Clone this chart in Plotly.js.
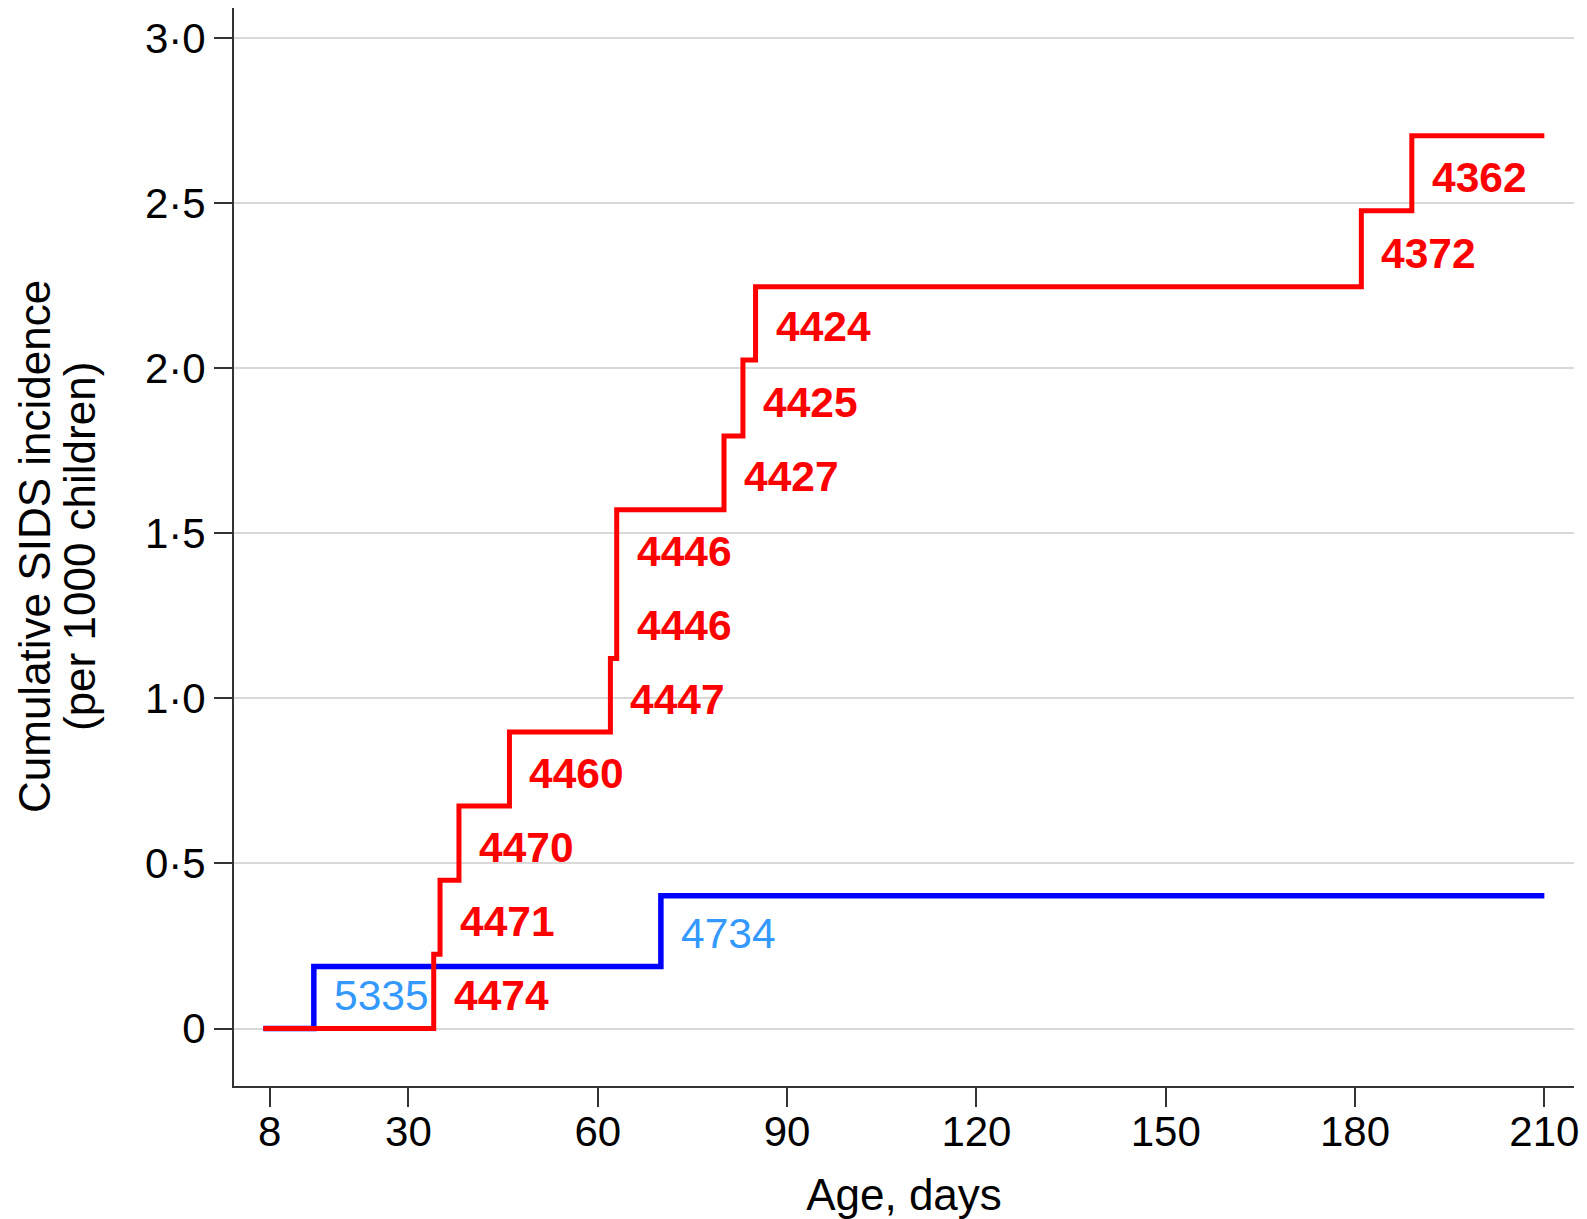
<!DOCTYPE html>
<html>
<head>
<meta charset="utf-8">
<script src="https://cdn.plot.ly/plotly-3.0.1.min.js"></script>
<style>
html, body { margin: 0; padding: 0; background: #ffffff; }
#chart { width: 1587px; height: 1219px; }
</style>
</head>
<body>
<div id="chart"></div>
<script>
// ---- data ----
const xTickVals = [8, 30, 60, 90, 120, 150, 180, 210];
const yTickVals = [0, 0.5, 1, 1.5, 2, 2.5, 3];
const yTickText = ["0", "0·5", "1·0", "1·5", "2·0", "2·5", "3·0"];

const xTitle = "Age, days";
const yTitleLines = ["Cumulative SIDS incidence", "(per 1000 children)"];

const startDay = 7;
const endDay = 210;

// red group: event days, cumulative incidence after each event, number at risk labels
const redDays = [34, 35, 38, 46, 62, 63, 63, 80, 83, 85, 181, 189];
const redCum = [0.225, 0.449, 0.674, 0.898, 1.121, 1.345, 1.571, 1.795, 2.025, 2.247, 2.477, 2.704];
const redLabels = ["4474", "4471", "4470", "4460", "4447", "4446", "4446", "4427", "4425", "4424", "4372", "4362"];

// blue group
const blueDays = [15, 70];
const blueCum = [0.188, 0.402];
const blueLabels = ["5335", "4734"];

// ---- styles ----
const FONT = "Liberation Sans, Arial, Helvetica, sans-serif";
const RED = "#ff0000";
const BLUE = "#0000ff";
const BLUE_TXT = "#3399ff";

function stepXY(days, cum) {
  const x = [startDay].concat(days, [endDay]);
  const y = [0].concat(cum, [cum[cum.length - 1]]);
  return { x, y };
}

// number-at-risk labels: just right of each riser, above the level before the step
function labelAnnotations(days, cum, labels, color, weight) {
  return days.map((d, i) => ({
    x: d, y: i === 0 ? 0 : cum[i - 1],
    xref: "x", yref: "y",
    text: labels[i],
    showarrow: false,
    xanchor: "left", yanchor: "middle",
    xshift: 18, yshift: 33,
    font: { family: FONT, size: 42.5, color: color, weight: weight }
  }));
}

const blueStep = stepXY(blueDays, blueCum);
const redStep = stepXY(redDays, redCum);

const traces = [
  {
    type: "scatter", mode: "lines",
    x: blueStep.x, y: blueStep.y,
    line: { color: BLUE, width: 5.5, shape: "hv" },
    hoverinfo: "skip", showlegend: false
  },
  {
    type: "scatter", mode: "lines",
    x: redStep.x, y: redStep.y,
    line: { color: RED, width: 5, shape: "hv" },
    hoverinfo: "skip", showlegend: false
  }
];

const yTitleAnnotations = yTitleLines.map((t, i) => ({
  text: t,
  xref: "paper", yref: "paper",
  x: 0, y: 0.5,
  xanchor: "center", yanchor: "middle",
  xshift: i === 0 ? -200 : -155,
  textangle: -90,
  showarrow: false,
  font: { family: FONT, size: 44, color: "#000000" }
}));

const annotations = []
  .concat(yTitleAnnotations)
  .concat(labelAnnotations(blueDays, blueCum, blueLabels, BLUE_TXT, "normal"))
  .concat(labelAnnotations(redDays, redCum, redLabels, RED, "bold"));

const layout = {
  width: 1587, height: 1219,
  margin: { l: 234, r: 13, t: 8, b: 133, pad: 0 },
  paper_bgcolor: "#ffffff",
  plot_bgcolor: "#ffffff",
  showlegend: false,
  font: { family: FONT, color: "#000000" },
  xaxis: {
    range: [2.35, 214.7],
    tickmode: "array", tickvals: xTickVals,
    ticktext: xTickVals.map(String),
    ticks: "outside", ticklen: 19, tickwidth: 2, tickcolor: "#333333",
    ticklabelstandoff: -11,
    tickfont: { family: FONT, size: 42, color: "#000000" },
    showline: true, linecolor: "#333333", linewidth: 2,
    showgrid: false, zeroline: false,
    title: { text: xTitle, font: { family: FONT, size: 44, color: "#000000" }, standoff: 25 }
  },
  yaxis: {
    range: [-0.174, 3.091],
    tickmode: "array", tickvals: yTickVals, ticktext: yTickText,
    ticks: "outside", ticklen: 18, tickwidth: 2, tickcolor: "#333333",
    tickfont: { family: FONT, size: 42, color: "#000000" },
    showline: true, linecolor: "#333333", linewidth: 2,
    showgrid: true, gridcolor: "#d9d9d9", gridwidth: 2,
    zeroline: false
  },
  annotations: annotations
};

Plotly.newPlot("chart", traces, layout, { staticPlot: true, displayModeBar: false });
</script>
</body>
</html>
